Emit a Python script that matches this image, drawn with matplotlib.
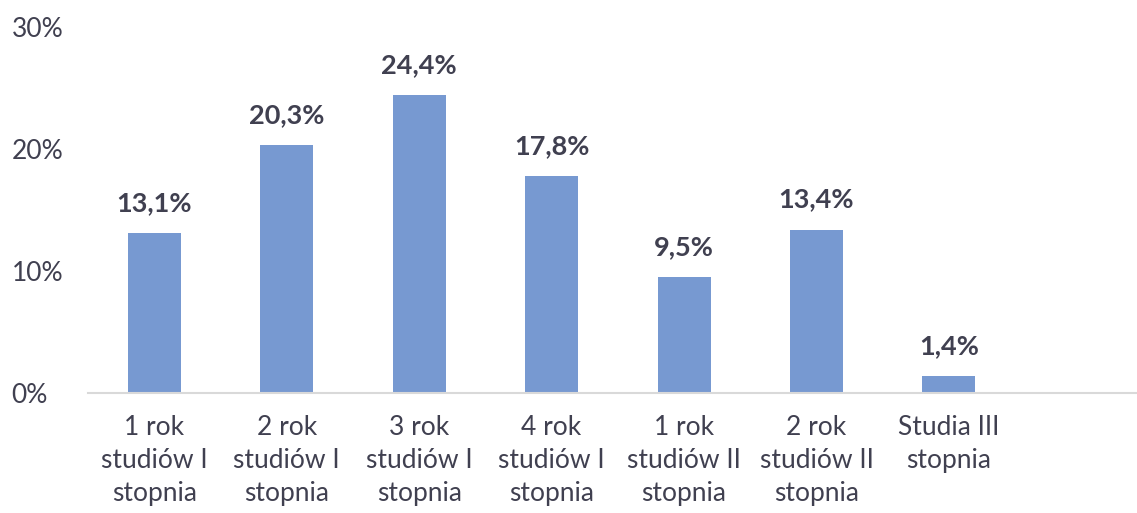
import matplotlib.pyplot as plt

categories = ['1 rok\nstudiów I\nstopnia', '2 rok\nstudiów I\nstopnia',
              '3 rok\nstudiów I\nstopnia', '4 rok\nstudiów I\nstopnia',
              '1 rok\nstudiów II\nstopnia', '2 rok\nstudiów II\nstopnia',
              'Studia III\nstopnia']
values = [13.1, 20.3, 24.4, 17.8, 9.5, 13.4, 1.4]

text_color = '#404050'
plt.rcParams['font.family'] = ['Lato', 'DejaVu Sans']

fig = plt.figure(figsize=(11.37, 5.13), dpi=100)
ax = fig.add_axes([88 / 1137, 1 - 393 / 513, 1 - 88 / 1137, (393 - 27) / 513])

x = list(range(len(values)))
ax.bar(x, values, width=0.4, color='#7799d1', zorder=2)

for xi, v in zip(x, values):
    ax.annotate(f'{v:.1f}%'.replace('.', ','), (xi, v), xytext=(0, 13),
                textcoords='offset points', ha='center', va='bottom',
                fontsize=19.5, fontweight='bold', color=text_color)

ax.set_xlim(-0.5, 7.42)
ax.set_ylim(0, 30)
ax.set_yticks([0, 10, 20, 30])
ax.set_yticklabels(['0%', '10%', '20%', '30%'])
ax.set_xticks(x)
ax.set_xticklabels(categories, va='top', linespacing=1.4)

for side in ['top', 'right', 'left']:
    ax.spines[side].set_visible(False)
ax.spines['bottom'].set_color('#d9d9d9')
ax.spines['bottom'].set_linewidth(1.5)
ax.tick_params(axis='both', length=0, labelsize=19, labelcolor=text_color)
ax.tick_params(axis='x', pad=16)
ax.tick_params(axis='y', pad=55)
for lbl in ax.get_yticklabels():
    lbl.set_horizontalalignment('left')

fig.savefig('out.png', dpi=100)
